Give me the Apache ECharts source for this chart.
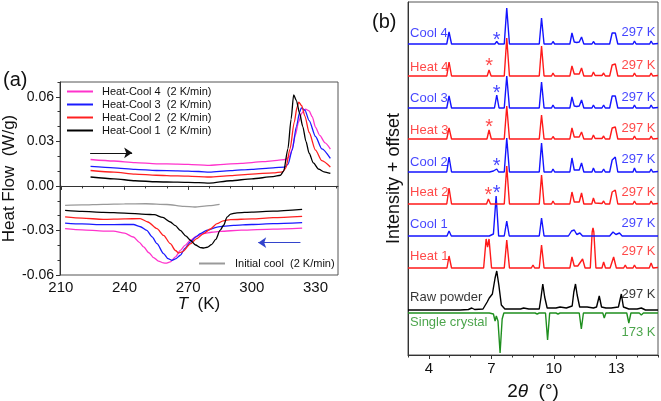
<!DOCTYPE html>
<html><head><meta charset="utf-8">
<script src="https://cdn.jsdelivr.net/npm/echarts@6.0.0/dist/echarts.min.js"></script>
<style>html,body{margin:0;padding:0;background:#fff}#c{width:661px;height:401px}</style>
</head><body><div id="c"></div>
<script>
// ---------- Panel (a): DSC heat flow (T in K, W/g) ----------
const hc4Heat = [[224,0.0178],[235,0.0168],[245,0.0157],[255,0.0149],[265,0.0147],[275,0.0142],[280,0.0138],[285,0.0144],[295,0.0152],[305,0.0163],[312,0.0172],[315.8,0.0178],[317.7,0.0195],[319,0.025],[320.5,0.0342],[322,0.043],[323.5,0.049],[325.3,0.0517],[327,0.0505],[328.5,0.0465],[330,0.0395],[332,0.034],[334.5,0.029],[337,0.0248]];
const hc3Heat = [[224,0.0131],[235,0.0122],[245,0.0111],[255,0.0104],[265,0.0102],[275,0.0097],[280,0.0093],[290,0.0103],[300,0.0112],[310,0.0122],[315.5,0.0127],[317,0.0145],[319,0.024],[321,0.040],[322.5,0.0495],[323.3,0.0526],[325,0.051],[327,0.044],[330,0.0333],[333,0.025],[337,0.0185]];
const hc2Heat = [[224,0.0104],[235,0.0093],[245,0.0080],[255,0.0072],[265,0.0068],[275,0.0063],[280,0.0060],[290,0.0070],[300,0.0080],[310,0.0088],[314.5,0.0095],[316,0.012],[318,0.025],[320,0.043],[321.3,0.053],[322.1,0.0565],[323.5,0.054],[325,0.047],[327,0.036],[330,0.0241],[333,0.017],[337,0.0127]];
const hc1Heat = [[224,0.0060],[235,0.0048],[245,0.0035],[255,0.0028],[265,0.0025],[275,0.0022],[280,0.0019],[290,0.0035],[300,0.0048],[310,0.0062],[313.5,0.0072],[315,0.010],[317,0.025],[318.5,0.045],[319.7,0.0613],[321,0.0575],[322.5,0.049],[324,0.040],[325.5,0.030],[327,0.022],[329,0.0155],[331.5,0.0113],[334,0.0095],[337,0.0084]];
const initCool = [[212,-0.0131],[220,-0.0128],[230,-0.0124],[240,-0.0121],[250,-0.0120],[260,-0.0125],[268,-0.0138],[273,-0.0142],[280,-0.0133],[284.8,-0.0124]];
const hc1Cool = [[212,-0.0165],[220,-0.0172],[230,-0.0178],[240,-0.0183],[250,-0.0191],[254,-0.0194],[258,-0.0212],[261.6,-0.0243],[264,-0.0268],[266.3,-0.030],[269,-0.0338],[271,-0.0366],[273.5,-0.0398],[275.7,-0.0415],[277.3,-0.0418],[279,-0.0413],[281,-0.0395],[283,-0.036],[285,-0.030],[286.7,-0.0265],[288.3,-0.021],[290,-0.0190],[293,-0.0181],[300,-0.0176],[310,-0.0170],[323.7,-0.0158]];
const hc2Cool = [[212,-0.0209],[220,-0.0217],[230,-0.0225],[240,-0.0222],[247.4,-0.022],[251,-0.0243],[255.3,-0.0288],[258.4,-0.0333],[261.6,-0.0389],[264,-0.0435],[265.5,-0.0452],[267.5,-0.0442],[271,-0.039],[274,-0.0355],[277.3,-0.0321],[280.5,-0.029],[283.6,-0.0254],[286.5,-0.0235],[289.9,-0.0227],[300,-0.0222],[310,-0.0214],[323.7,-0.0205]];
const hc3Cool = [[212,-0.025],[220,-0.0256],[230,-0.0261],[240,-0.026],[244.2,-0.026],[247.5,-0.0275],[250.5,-0.030],[253,-0.0343],[255.3,-0.0389],[258.4,-0.0456],[260.5,-0.0490],[262.4,-0.0501],[264,-0.0492],[266.3,-0.0467],[268.5,-0.042],[271,-0.0378],[273.5,-0.0345],[275.7,-0.0321],[279,-0.0298],[283.6,-0.0277],[291.4,-0.0266],[300,-0.026],[310,-0.0254],[323.7,-0.0247]];
const hc4Cool = [[212,-0.0288],[220,-0.0296],[230,-0.0304],[234.8,-0.0304],[240,-0.0318],[244.2,-0.0344],[247,-0.038],[249,-0.0411],[251.5,-0.045],[253.7,-0.0483],[256,-0.0506],[258.4,-0.0519],[259.5,-0.052],[261.6,-0.0512],[264,-0.0478],[266.3,-0.0434],[268.5,-0.040],[271,-0.0366],[274,-0.0338],[277.3,-0.0321],[281,-0.0312],[285.1,-0.0306],[295,-0.0298],[310,-0.0291],[323.7,-0.0284]];
const dscNames = ['Heat-Cool 4  (2 K/min)','Heat-Cool 3  (2 K/min)','Heat-Cool 2  (2 K/min)','Heat-Cool 1  (2 K/min)'];
const initName = 'Initial cool  (2 K/min)';
const aXLabels = [210,240,270,300,330];
const aXTicks = [210,220,230,240,250,260,270,280,290,300,310,320,330,340];
const aYLabels = [-0.06,-0.03,0,0.03,0.06];
const aYTicks = [-0.06,-0.05,-0.04,-0.03,-0.02,-0.01,0,0.01,0.02,0.03,0.04,0.05,0.06,0.07];

// ---------- Panel (b): PXRD, 2theta (deg) vs relative intensity ----------
const cool4 = [[3,0],[4.86,0],[4.97,12],[5.09,0],[7.17,0],[7.26,2.5],[7.35,0],[7.62,0],[7.74,36],[7.87,0],[8.92,0],[9.0,1],[9.08,0],[9.3,0],[9.41,26],[9.53,0],[9.89,0],[9.96,2.5],[10.04,0],[10.77,0],[10.87,11],[10.98,2],[11.1,1.5],[11.22,2],[11.33,7],[11.44,0],[11.83,0],[11.9,2.5],[11.98,0],[12.31,0],[12.39,2],[12.47,0],[12.68,0],[12.8,11],[12.87,9],[12.95,11],[13.07,0],[13.8,0],[13.87,3],[13.95,0],[14.6,0],[14.67,3],[14.75,0],[15,0.5]];
const heat4 = [[3,0],[4.86,0],[4.97,14],[5.09,0],[6.8,0],[6.89,6],[6.99,0],[7.62,0],[7.74,38],[7.87,0],[8.92,0],[9.0,2],[9.08,0],[9.3,0],[9.41,30],[9.53,0],[9.89,0],[9.96,3],[10.04,0],[10.77,0],[10.87,10],[10.98,2],[11.1,2],[11.22,2],[11.33,8],[11.44,0],[11.82,0],[11.9,4],[11.98,0.5],[12.31,0.5],[12.39,3],[12.47,0],[12.68,0],[12.8,11],[12.87,9],[12.95,12],[13.07,0],[13.8,0],[13.87,3],[13.95,0],[14.6,0],[14.67,3],[14.75,0],[15,0.5]];
const cool3 = [[3,0],[4.86,0],[4.97,12],[5.09,0],[7.15,0],[7.26,13],[7.37,0],[7.62,0],[7.74,32],[7.87,0],[8.92,0],[9.0,1],[9.08,0],[9.3,0],[9.41,26],[9.53,0],[9.89,0],[9.96,3],[10.04,0],[10.77,0],[10.87,11],[10.98,2],[11.1,1.5],[11.22,2],[11.33,8],[11.44,0],[11.83,0],[11.9,3],[11.98,0],[12.31,0],[12.39,3],[12.47,0],[12.68,0],[12.8,12],[12.87,10],[12.95,12],[13.07,0],[13.8,0],[13.87,3],[13.95,0],[14.6,0],[14.67,3],[14.75,0],[15,0.5]];
const heat3 = [[3,0],[4.86,0],[4.97,11],[5.09,0],[6.79,0],[6.89,9],[7.0,0],[7.62,0],[7.74,33],[7.87,0],[8.92,0],[9.0,2],[9.08,0],[9.3,0],[9.41,24],[9.53,0],[9.89,0],[9.96,2.5],[10.04,0],[10.77,0],[10.87,11],[10.98,2],[11.1,2],[11.22,2],[11.33,7],[11.44,0],[11.82,0],[11.9,4],[11.98,0.5],[12.31,0.5],[12.39,3],[12.47,0],[12.68,0],[12.8,11],[12.87,9],[12.95,12],[13.07,0],[13.8,0],[13.87,3],[13.95,0],[14.6,0],[14.67,3],[14.75,0],[15,0.5]];
const cool2 = [[3,0],[4.86,0],[4.97,15],[5.09,0],[6.92,0],[7.0,2],[7.1,1],[7.26,3],[7.35,0],[7.62,0],[7.74,34],[7.87,0],[8.92,0],[9.0,1],[9.08,0],[9.3,0],[9.41,29],[9.53,0],[9.89,0],[9.96,3],[10.04,0],[10.77,0],[10.87,14],[10.98,2],[11.1,2],[11.22,2],[11.33,9],[11.44,0],[11.83,0],[11.9,4],[11.98,0],[12.31,0],[12.39,3],[12.47,0],[12.68,0],[12.8,12],[12.87,11],[12.95,15],[13.07,0],[13.8,0],[13.87,4],[13.95,0],[14.6,0],[14.67,3],[14.75,0],[15,0.5]];
const heat2 = [[3,0],[4.86,0],[4.97,16],[5.09,0],[6.77,0],[6.86,5],[6.96,0],[7.62,0],[7.74,38],[7.87,0],[8.92,0],[9.0,2],[9.08,0],[9.3,0],[9.41,29],[9.53,0],[9.89,0],[9.96,3],[10.04,0],[10.77,0],[10.87,12],[10.98,2],[11.1,2],[11.22,2],[11.33,11],[11.44,0],[11.82,0],[11.9,6],[11.98,1],[12.31,0.5],[12.39,3],[12.47,0],[12.68,0],[12.8,12],[12.87,11],[12.95,14],[13.07,0],[13.8,0],[13.87,3],[13.95,0],[14.6,0],[14.67,3],[14.75,0],[15,0.5]];
const cool1 = [[3,0],[4.87,0],[4.97,5],[5.08,0],[6.9,0],[7.1,2],[7.23,40],[7.35,0],[7.62,0],[7.74,15],[7.86,0],[9.3,0],[9.41,18],[9.53,0],[9.9,0],[9.96,1],[10.02,0],[10.7,0],[10.85,5],[10.98,6],[11.1,1.5],[11.25,3],[11.38,0],[11.83,0],[11.9,2],[11.98,0],[12.32,0],[12.39,1],[12.46,0],[12.68,0],[12.84,4],[12.98,1.5],[13.15,3],[13.28,0],[14.6,0],[14.67,1],[14.74,0],[15,0]];
const heat1 = [[3,0],[4.87,0],[4.97,12],[5.09,0],[6.63,0],[6.75,29],[6.82,21],[6.89,29],[7.01,0],[7.62,0],[7.74,28],[7.87,0],[8.92,0],[9.0,3],[9.08,0],[9.3,0],[9.41,23],[9.53,0],[9.89,0],[9.96,2],[10.04,0],[10.77,0],[10.87,11],[10.98,2],[11.15,2],[11.38,9],[11.5,0],[11.75,0],[11.84,36],[11.88,40],[11.92,36],[12.02,0],[12.31,0],[12.39,6],[12.48,0],[12.7,0],[12.87,11],[13.0,0],[13.35,0],[13.43,3],[13.5,0],[13.8,0],[13.87,3],[13.95,0],[14.58,0],[14.67,5],[14.76,0],[15,0.5]];
const rawPowder = [[3,0],[5.5,0],[5.9,0.5],[6.06,2],[6.2,0.5],[6.6,1],[6.8,8],[6.9,12],[7.05,16],[7.18,32],[7.26,39],[7.36,25],[7.48,5],[7.65,1],[8.4,1],[8.55,2],[8.8,1],[9.3,1],[9.38,12],[9.47,26],[9.56,13],[9.68,2],[10.1,2],[10.3,3],[10.6,2],[10.88,4],[10.96,18],[11.04,26],[11.12,15],[11.24,3],[11.6,3],[11.9,2],[12.05,3],[12.18,14],[12.29,3],[12.5,2],[12.75,2],[13.1,3],[13.24,16],[13.34,3],[13.6,1],[14.0,1],[14.2,2],[14.4,0],[15,0]];
const singleCrystal = [[3,0],[6.9,0],[7.1,-1],[7.18,-8],[7.24,-3],[7.32,-8],[7.42,-40],[7.52,-6],[7.6,0],[9.1,0],[9.2,-1],[9.3,0],[9.6,0],[9.7,-27],[9.8,0],[10.1,0],[10.2,-1],[10.3,0],[11.22,0],[11.32,-16],[11.42,0],[11.86,0],[11.94,-2],[12.02,0],[12.35,0],[12.42,-5],[12.5,0],[13.5,0],[13.6,-10],[13.7,0],[14.1,0],[14.2,-2],[14.3,0],[14.6,0],[14.67,-1],[14.75,0],[15,0]];
const traceNames = ['Cool 4','Heat 4','Cool 3','Heat 3','Cool 2','Heat 2','Cool 1','Heat 1','Raw powder','Single crystal'];
const traceTemps = ['297 K','297 K','297 K','297 K','297 K','297 K','297 K','297 K','297 K','173 K'];
const traceOffsets = [311,279,247,216,183,151,119,87,45,42];
const bXLabels = [4,7,10,13];
const bXTicks = [3,4,5,6,7,8,9,10,11,12,13,14,15];

// ---------- build ----------
const FONT = 'Liberation Sans, Arial, sans-serif';
const C = {hc4:'#ff33cc', hc3:'#1a1aff', hc2:'#ff2020', hc1:'#000000', init:'#9a9a9a', blue:'#1414ff', red:'#ff1a1a', black:'#000000', green:'#1f8f1f'};
const traces = [cool4,heat4,cool3,heat3,cool2,heat2,cool1,heat1,rawPowder,singleCrystal];
const traceColors = [C.blue,C.red,C.blue,C.red,C.blue,C.red,C.blue,C.red,C.black,C.green];

function dsc(name, data, color, z){
  return {type:'line', name, data, xAxisIndex:0, yAxisIndex:0, showSymbol:false, symbol:'none',
    smooth:0.25, smoothMonotone:'x', lineStyle:{color, width:1.3}, itemStyle:{color}, z, silent:true};
}
const series = [
  Object.assign(dsc(initName, initCool, C.init, 2), {
    markLine:{silent:true, symbol:['none','arrow'], symbolSize:8, label:{show:false},
      data:[
        [{coord:[223.8,0.0223], lineStyle:{color:'#111', width:1, type:'solid'}, itemStyle:{color:'#111'}},{coord:[243.6,0.0223]}],
        [{coord:[322.9,-0.0382], lineStyle:{color:'#3344cc', width:1, type:'solid'}, itemStyle:{color:'#22226a'}},{coord:[303,-0.0382]}]
      ]}
  }),
  dsc(dscNames[0], hc4Heat, C.hc4, 3), dsc(dscNames[0], hc4Cool, C.hc4, 3),
  dsc(dscNames[1], hc3Heat, C.hc3, 4), dsc(dscNames[1], hc3Cool, C.hc3, 4),
  dsc(dscNames[2], hc2Heat, C.hc2, 5), dsc(dscNames[2], hc2Cool, C.hc2, 5),
  dsc(dscNames[3], hc1Heat, C.hc1, 6), dsc(dscNames[3], hc1Cool, C.hc1, 6)
];
traces.forEach((t, i) => {
  series.push({type:'line', name:traceNames[i], data:t.map(p => [p[0], p[1] + traceOffsets[i]]),
    xAxisIndex:2, yAxisIndex:2, showSymbol:false, symbol:'none', silent:true,
    lineStyle:{color:traceColors[i], width:1.4}, itemStyle:{color:traceColors[i]}, z:10 - i});
});
// text annotations for panel (b)
const nameY = [322,288,257,225,193,163,131,99,58,33];
const tempY = [323,290,258,227,196,163,132,104,61,23];
const lab = [];
traceNames.forEach((n, i) => {
  lab.push({value:[3.1, nameY[i]], label:{formatter:n, color:traceColors[i], align:'left'}});
  lab.push({value:[14.88, tempY[i]], label:{formatter:traceTemps[i], color:traceColors[i], align:'right'}});
});
const stars = [[7.26,315,C.blue],[6.89,289,C.red],[7.26,262,C.blue],[6.89,228,C.red],[7.26,189,C.blue],[6.86,160,C.red],[7.26,162,C.blue]];
stars.forEach(s => lab.push({value:[s[0], s[1]], label:{formatter:'*', color:s[2], align:'center', fontSize:20}}));
series.push({type:'scatter', xAxisIndex:2, yAxisIndex:2, symbolSize:1, silent:true, z:20,
  itemStyle:{color:'transparent'},
  label:{show:true, position:'inside', verticalAlign:'middle', fontSize:13, fontFamily:FONT},
  data:lab});

const axisCol = '#333';
const option = {
  animation:false,
  backgroundColor:'#fff',
  textStyle:{fontFamily:FONT},
  grid:[
    {left:60, right:323, top:82, bottom:126, show:true, borderColor:'#555', borderWidth:1, outerBoundsMode:'none', containLabel:false},
    {left:408, right:3, top:2, bottom:46, show:true, borderColor:'#555', borderWidth:1, outerBoundsMode:'none', containLabel:false}
  ],
  legend:[
    {data:dscNames, orient:'vertical', left:67, top:85, padding:0, itemGap:0, itemWidth:26, itemHeight:2, icon:'rect',
      selectedMode:false, textStyle:{fontSize:11, color:'#111', fontFamily:FONT, padding:[0,0,0,4], lineHeight:13}},
    {data:[initName], left:199, top:257, padding:0, itemWidth:26, itemHeight:2, icon:'rect',
      selectedMode:false, textStyle:{fontSize:11, color:'#111', fontFamily:FONT, padding:[0,0,0,5], lineHeight:13}}
  ],
  xAxis:[
    {gridIndex:0, type:'value', min:209.6, max:340.6, position:'bottom',
      name:'{i|T}  (K)', nameLocation:'middle', nameGap:18,
      nameTextStyle:{fontSize:17, color:'#111', rich:{i:{fontStyle:'italic', fontSize:17, color:'#111'}}},
      axisLine:{show:true, lineStyle:{color:axisCol}}, splitLine:{show:false},
      axisTick:{show:true, customValues:aXLabels, length:4, inside:false, lineStyle:{color:axisCol}},
      axisLabel:{customValues:aXLabels, fontSize:15, color:'#111', margin:5}},
    {gridIndex:0, type:'value', min:209.6, max:340.6, position:'bottom',
      axisLine:{show:false}, splitLine:{show:false}, axisLabel:{show:false},
      axisTick:{show:true, customValues:aXTicks, length:2.5, lineStyle:{color:axisCol}}},
    {gridIndex:1, type:'value', min:3, max:15, position:'bottom',
      name:'2{i|θ}  (°)', nameLocation:'middle', nameGap:27,
      nameTextStyle:{fontSize:19, color:'#111', rich:{i:{fontStyle:'italic', fontSize:19, color:'#111'}}},
      axisLine:{show:true, lineStyle:{color:axisCol}}, splitLine:{show:false},
      axisTick:{show:true, customValues:bXLabels, length:4, lineStyle:{color:axisCol}},
      axisLabel:{customValues:bXLabels, fontSize:15, color:'#111', margin:6}},
    {gridIndex:1, type:'value', min:3, max:15, position:'bottom',
      axisLine:{show:false}, splitLine:{show:false}, axisLabel:{show:false},
      axisTick:{show:true, customValues:bXTicks, length:2.5, lineStyle:{color:axisCol}}}
  ],
  yAxis:[
    {gridIndex:0, type:'value', min:-0.06, max:0.07, position:'left',
      name:'Heat Flow  (W/g)', nameLocation:'middle', nameGap:32, nameRotate:90,
      nameTextStyle:{fontSize:17, color:'#111'},
      axisLine:{show:true, lineStyle:{color:axisCol}}, splitLine:{show:false},
      axisTick:{show:true, customValues:aYLabels, length:4, lineStyle:{color:axisCol}},
      axisLabel:{customValues:aYLabels, fontSize:14, color:'#111', margin:6, formatter:v => Number(v).toFixed(2)}},
    {gridIndex:0, type:'value', min:-0.06, max:0.07, position:'left',
      axisLine:{show:false}, splitLine:{show:false}, axisLabel:{show:false},
      axisTick:{show:true, customValues:aYTicks, length:2.5, lineStyle:{color:axisCol}}},
    {gridIndex:1, type:'value', min:0, max:353, position:'left',
      name:'Intensity + offset', nameLocation:'middle', nameGap:5, nameRotate:90,
      nameTextStyle:{fontSize:18, color:'#111'},
      axisLine:{show:true, lineStyle:{color:axisCol}}, splitLine:{show:false},
      axisTick:{show:false}, axisLabel:{show:false}}
  ],
  graphic:[
    {type:'text', left:3, top:70, style:{text:'(a)', fontSize:20, fill:'#111', fontFamily:FONT}},
    {type:'text', left:372, top:12, style:{text:'(b)', fontSize:20, fill:'#111', fontFamily:FONT}}
  ],
  series
};
const chart = echarts.init(document.getElementById('c'), null, {renderer:'canvas'});
chart.setOption(option);
</script></body></html>
